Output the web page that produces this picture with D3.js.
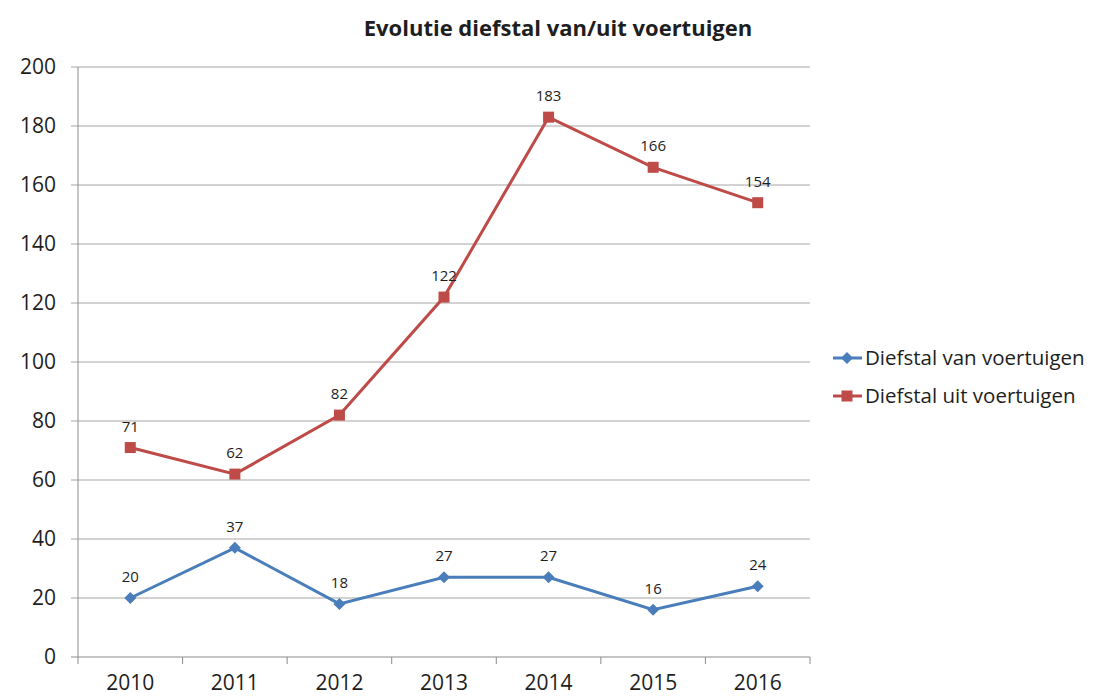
<!DOCTYPE html>
<html>
<head>
<meta charset="utf-8">
<script src="https://cdn.jsdelivr.net/npm/d3@7"></script>
<style>
  body { margin: 0; background: #fff; }
  text { font-family: "Open Sans", "Liberation Sans", sans-serif; fill: #1e1e1e; }
</style>
</head>
<body>
<div id="chart"></div>
<script>
const years = ["2010", "2011", "2012", "2013", "2014", "2015", "2016"];
const vanValues = [20, 37, 18, 27, 27, 16, 24];
const uitValues = [71, 62, 82, 122, 183, 166, 154];
const yTicks = [0, 20, 40, 60, 80, 100, 120, 140, 160, 180, 200];
const seriesNames = ["Diefstal van voertuigen", "Diefstal uit voertuigen"];

const width = 1094, height = 698;
const plotLeft = 78, plotRight = 810, plotTop = 67, plotBottom = 657;

let svg = d3.select("#chart").append("svg")
    .attr("width", width)
    .attr("height", height);

let x = d3.scaleBand().domain(years).range([plotLeft, plotRight]);
let y = d3.scaleLinear().domain([0, 200]).range([plotBottom, plotTop]);

// gridlines
svg.append("g").selectAll("line")
    .data(yTicks)
    .enter().append("line")
    .attr("x1", plotLeft - 7).attr("x2", plotRight)
    .attr("y1", d => y(d)).attr("y2", d => y(d))
    .attr("stroke", d => d === 0 ? "#8c8c8c" : "#a6a6a6")
    .attr("stroke-width", 1);

// y axis line
svg.append("line")
    .attr("x1", plotLeft).attr("x2", plotLeft)
    .attr("y1", plotTop).attr("y2", plotBottom)
    .attr("stroke", "#8c8c8c");

// y labels
svg.append("g").selectAll("text")
    .data(yTicks)
    .enter().append("text")
    .attr("x", plotLeft - 22)
    .attr("y", d => y(d))
    .attr("dy", "0.35em")
    .attr("text-anchor", "end")
    .style("font-size", "21px")
    .text(d => d);

// x ticks
let xTickPos = years.map(d => x(d)).concat([plotRight]);
svg.append("g").selectAll("line")
    .data(xTickPos)
    .enter().append("line")
    .attr("x1", d => d).attr("x2", d => d)
    .attr("y1", plotBottom).attr("y2", plotBottom + 7)
    .attr("stroke", "#8c8c8c");

svg.append("g").selectAll("text")
    .data(years)
    .enter().append("text")
    .attr("x", d => x(d) + x.bandwidth() / 2)
    .attr("y", 690)
    .attr("text-anchor", "middle")
    .style("font-size", "21px")
    .text(d => d);

// title
svg.append("text")
    .attr("x", 558).attr("y", 36)
    .attr("text-anchor", "middle")
    .style("font-size", "22px")
    .style("font-weight", "bold")
    .text("Evolutie diefstal van/uit voertuigen");

const cx = (d, i) => x(years[i]) + x.bandwidth() / 2;

let line = d3.line()
    .x(cx)
    .y(d => y(d));

let series = [
  { name: seriesNames[0], values: vanValues, color: "#4a7ebb", marker: "diamond" },
  { name: seriesNames[1], values: uitValues, color: "#be4b48", marker: "square" }
];

function marker(g, type, color) {
  if (type === "diamond") {
    g.append("path").attr("d", "M0,-6L6,0L0,6L-6,0Z").attr("fill", color);
  } else {
    g.append("rect").attr("x", -5.5).attr("y", -5.5)
      .attr("width", 11).attr("height", 11).attr("fill", color);
  }
}

series.forEach(s => {
  svg.append("path")
    .datum(s.values)
    .attr("d", line)
    .attr("fill", "none")
    .attr("stroke", s.color)
    .attr("stroke-width", 3);

  s.values.forEach((v, i) => {
    let g = svg.append("g")
      .attr("transform", "translate(" + cx(v, i) + "," + y(v) + ")");
    marker(g, s.marker, s.color);
  });

  svg.append("g").selectAll("text")
    .data(s.values)
    .enter().append("text")
    .attr("x", cx)
    .attr("y", d => y(d) - 16)
    .attr("text-anchor", "middle")
    .style("font-size", "15px")
    .text(d => d);
});

// legend
let legend = svg.append("g");
series.forEach((s, i) => {
  let ly = 358 + i * 38;
  legend.append("line")
    .attr("x1", 833).attr("x2", 862)
    .attr("y1", ly).attr("y2", ly)
    .attr("stroke", s.color).attr("stroke-width", 3);
  let g = legend.append("g").attr("transform", "translate(847," + ly + ")");
  marker(g, s.marker, s.color);
  legend.append("text")
    .attr("x", 865).attr("y", ly)
    .attr("dy", "0.35em")
    .style("font-size", "20.5px")
    .text(s.name);
});
</script>
</body>
</html>
